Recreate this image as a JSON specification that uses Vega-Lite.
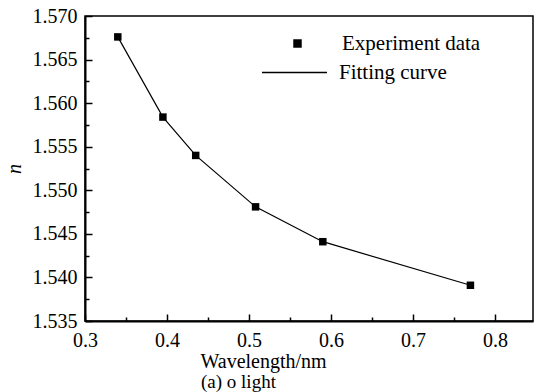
{
  "$schema": "https://vega.github.io/schema/vega-lite/v6.json",
  "width": 448,
  "height": 305,
  "autosize": {"type": "none"},
  "padding": {"left": 85, "top": 16, "right": 1, "bottom": 71},
  "background": "white",
  "title": {
    "text": "(a) o light",
    "orient": "bottom",
    "anchor": "start",
    "frame": "group",
    "dx": 116,
    "offset": 2,
    "font": "Liberation Serif",
    "fontSize": 19,
    "fontWeight": "normal",
    "color": "black"
  },
  "config": {
    "view": {"stroke": "black", "strokeWidth": 1.5},
    "font": "Liberation Serif",
    "axis": {
      "domainColor": "black", "domainWidth": 2,
      "tickColor": "black", "tickWidth": 1.5,
      "labelColor": "black", "labelFont": "Liberation Serif", "labelFontSize": 20,
      "titleFont": "Liberation Serif", "titleFontSize": 20, "titleColor": "black", "titleFontWeight": "normal",
      "grid": false, "labelOverlap": false
    },
    "legend": {
      "labelFont": "Liberation Serif", "labelFontSize": 21, "labelColor": "black", "padding": 0
    }
  },
  "data": {
    "values": [
      {"wavelength": 0.340, "n": 1.5676},
      {"wavelength": 0.395, "n": 1.5584},
      {"wavelength": 0.435, "n": 1.5540},
      {"wavelength": 0.508, "n": 1.5481},
      {"wavelength": 0.590, "n": 1.5441},
      {"wavelength": 0.770, "n": 1.5391}
    ]
  },
  "encoding": {
    "x": {
      "field": "wavelength", "type": "quantitative",
      "scale": {"domain": [0.3, 0.8463], "nice": false, "zero": false},
      "axis": {
        "title": "Wavelength/nm",
        "titleAnchor": "start",
        "titleAlign": "left",
        "titleX": 115,
        "titlePadding": -2,
        "values": [0.3, 0.35, 0.4, 0.45, 0.5, 0.55, 0.6, 0.65, 0.7, 0.75, 0.8],
        "format": ".1f",
        "labelFont": "Liberation Serif",
        "labelFlush": false,
        "labelPadding": 16,
        "labelExpr": "abs(datum.value*10 - round(datum.value*10)) < 0.001 ? datum.label : ''",
        "tickSize": {"condition": {"test": "abs(datum.value*10 - round(datum.value*10)) < 0.001", "value": -7}, "value": -4}
      }
    },
    "y": {
      "field": "n", "type": "quantitative",
      "scale": {"domain": [1.535, 1.57], "nice": false, "zero": false},
      "axis": {
        "title": "n",
        "titleFontStyle": "italic",
        "titleFontSize": 20,
        "titlePadding": 8,
        "values": [1.535, 1.5375, 1.54, 1.5425, 1.545, 1.5475, 1.55, 1.5525, 1.555, 1.5575, 1.56, 1.5625, 1.565, 1.5675, 1.57],
        "format": ".3f",
        "labelFont": "Liberation Serif",
        "labelPadding": 15,
        "labelExpr": "abs(datum.value*200 - round(datum.value*200)) < 0.001 ? datum.label : ''",
        "tickSize": {"condition": {"test": "abs(datum.value*200 - round(datum.value*200)) < 0.001", "value": -7}, "value": -4}
      }
    }
  },
  "layer": [
    {
      "mark": {"type": "line", "strokeWidth": 1.2},
      "encoding": {
        "color": {
          "datum": "Fitting curve",
          "scale": {"range": ["black"]},
          "legend": {
            "orient": "none", "legendX": 176, "legendY": 23, "title": null,
            "symbolType": "stroke", "symbolSize": 4225, "symbolStrokeWidth": 1.5,
            "symbolStrokeColor": "black", "labelOffset": 11,
            "labelFont": "Liberation Serif", "labelFontSize": 21
          }
        }
      }
    },
    {
      "mark": {"type": "point", "shape": "square", "filled": true, "color": "black", "size": 56, "opacity": 1},
      "encoding": {
        "shape": {
          "datum": "Experiment data",
          "scale": {"range": ["square"]},
          "legend": {
            "orient": "none", "legendX": 202, "legendY": 17, "title": null,
            "symbolType": "square", "symbolSize": 72, "symbolFillColor": "black",
            "symbolStrokeColor": "black", "symbolOpacity": 1, "labelOffset": 34,
            "labelFont": "Liberation Serif", "labelFontSize": 21
          }
        }
      }
    }
  ]
}
